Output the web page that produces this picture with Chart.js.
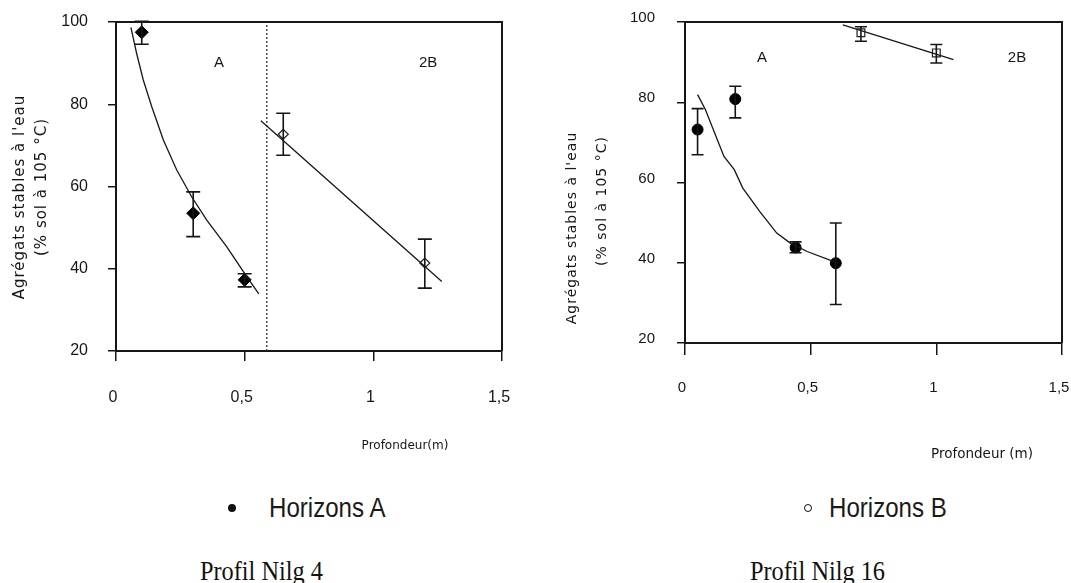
<!DOCTYPE html>
<html><head><meta charset="utf-8">
<script src="https://cdn.jsdelivr.net/npm/chart.js@4"></script>
<style>
html,body{margin:0;padding:0;background:#fff;width:1071px;height:583px;overflow:hidden;position:relative;font-family:"Liberation Sans",Arial,sans-serif}
.box{position:absolute;top:0;height:470px}
#w1{left:0;width:535px}
#w2{left:535px;width:560px}
.leg{position:absolute;font-size:28px;color:#1a1a1a;line-height:28px;height:28px;white-space:nowrap;transform:scaleX(0.86);transform-origin:0 50%}
.dot{position:absolute;width:8px;height:8px;border-radius:50%;box-sizing:border-box}
.cap{position:absolute;font-family:"Liberation Serif",serif;font-size:27px;line-height:28px;color:#111;white-space:nowrap;transform:scaleX(0.9);transform-origin:0 50%}
</style></head>
<body>
<div class="box" id="w1"><canvas id="c1"></canvas></div>
<div class="box" id="w2"><canvas id="c2"></canvas></div>
<div class="dot" style="left:228px;top:504px;background:#111"></div>
<div class="leg" style="left:269px;top:494px">Horizons A</div>
<div class="dot" style="left:804px;top:504px;border:1.5px solid #111;background:#fff"></div>
<div class="leg" style="left:829px;top:494px">Horizons B</div>
<div class="cap" style="left:200px;top:557px">Profil Nilg 4</div>
<div class="cap" style="left:750px;top:557px">Profil Nilg 16</div>
<script>
// ---- shared axis ticks ----
const xTickValues = [0, 0.5, 1, 1.5];
const xTickLabels = ['0', '0,5', '1', '1,5'];
const yTickValues = [20, 40, 60, 80, 100];
const yTickLabels = ['20', '40', '60', '80', '100'];
const yTitleLine1 = "Agrégats stables à l'eau";
const yTitleLine2 = "(% sol à 105 °C)";

// ---- Profil Nilg 4 ----
const p4A_depth = [0.1, 0.3, 0.5];
const p4A_value = [97.5, 53.5, 37.3];
const p4A_errLow = [94.6, 47.8, 35.6];
const p4A_errHigh = [100.2, 58.7, 38.8];
const p4B_depth = [0.65, 1.2];
const p4B_value = [72.7, 41.4];
const p4B_errLow = [67.6, 35.3];
const p4B_errHigh = [77.8, 47.2];
const p4A_fitDepth = [0.058, 0.080, 0.106, 0.139, 0.184, 0.236, 0.294, 0.352, 0.430, 0.508, 0.555];
const p4A_fitValue = [98.7, 92.4, 85.9, 79.4, 71.3, 64.0, 57.5, 51.9, 45.4, 38.1, 33.9];
const p4B_fitDepth = [0.563, 1.266];
const p4B_fitValue = [76.0, 36.9];
const p4_boundaryDepth = [0.586, 0.586];
const p4_boundaryValue = [20, 100];

// ---- Profil Nilg 16 ----
const p16A_depth = [0.05, 0.2, 0.44, 0.6];
const p16A_value = [73.2, 80.8, 43.8, 39.9];
const p16A_errLow = [66.9, 76.1, 42.5, 29.6];
const p16A_errHigh = [78.4, 84.0, 45.2, 49.9];
const p16B_depth = [0.7, 1.0];
const p16B_value = [97.3, 92.3];
const p16B_errLow = [95.2, 89.8];
const p16B_errHigh = [98.8, 94.4];
const p16A_fitDepth = [0.05, 0.081, 0.155, 0.196, 0.23, 0.297, 0.365, 0.419, 0.486, 0.608];
const p16A_fitValue = [81.9, 78.2, 66.5, 63.2, 58.6, 52.8, 47.4, 44.9, 42.8, 39.9];
const p16B_fitDepth = [0.628, 1.068];
const p16B_fitValue = [99.3, 90.6];

const pts = (xs, ys) => xs.map((x, i) => ({x: x, y: ys[i]}));
const INK = '#161616';

const errorBars = {
  id: 'errorBars',
  afterDatasetsDraw(chart) {
    const ctx = chart.ctx, xs = chart.scales.x, ys = chart.scales.y;
    chart.data.datasets.forEach(ds => {
      if (!ds.errLow) return;
      const cap = ds.capHalf || 6;
      ctx.save();
      ctx.strokeStyle = INK; ctx.lineWidth = 1.6;
      ds.data.forEach((p, i) => {
        const px = xs.getPixelForValue(p.x);
        const lo = ys.getPixelForValue(ds.errLow[i]);
        const hi = ys.getPixelForValue(ds.errHigh[i]);
        ctx.beginPath();
        ctx.moveTo(px, lo); ctx.lineTo(px, hi);
        ctx.moveTo(px - cap, lo); ctx.lineTo(px + cap, lo);
        ctx.moveTo(px - cap, hi); ctx.lineTo(px + cap, hi);
        ctx.stroke();
      });
      ctx.restore();
    });
  }
};

const frameAndText = {
  id: 'frameAndText',
  afterDraw(chart, args, opts) {
    const ctx = chart.ctx, a = chart.chartArea;
    ctx.save();
    ctx.strokeStyle = INK; ctx.lineWidth = 2;
    ctx.beginPath();
    ctx.moveTo(a.left, a.top); ctx.lineTo(a.right, a.top); ctx.lineTo(a.right, a.bottom);
    ctx.stroke();
    ctx.fillStyle = INK;
    ctx.textAlign = 'center'; ctx.textBaseline = 'middle';
    (opts.texts || []).forEach(t => {
      let x = t.px, y = t.py;
      if (t.dx !== undefined) { x = chart.scales.x.getPixelForValue(t.dx); y = chart.scales.y.getPixelForValue(t.dy); }
      ctx.save();
      ctx.font = t.font;
      ctx.letterSpacing = t.spacing || '0px';
      ctx.translate(x, y);
      if (t.rot) ctx.rotate(t.rot);
      ctx.fillText(t.text, 0, 0);
      ctx.restore();
    });
    ctx.restore();
  }
};

function build(id, o) {
  const datasets = [
    {data: pts(o.fitA[0], o.fitA[1]), showLine: true, borderColor: INK, borderWidth: 1.3, pointRadius: 0, tension: 0},
    {data: pts(o.fitB[0], o.fitB[1]), showLine: true, borderColor: INK, borderWidth: 1.3, pointRadius: 0, tension: 0},
    {data: pts(o.A[0], o.A[1]), errLow: o.A[2], errHigh: o.A[3], capHalf: o.cap, showLine: false,
     pointStyle: o.styleA, pointRadius: o.radA, backgroundColor: '#000', borderColor: '#000', borderWidth: 1},
    {data: pts(o.B[0], o.B[1]), errLow: o.B[2], errHigh: o.B[3], capHalf: o.cap, showLine: false,
     pointStyle: o.styleB, pointRadius: o.radB, backgroundColor: '#fff', borderColor: '#222', borderWidth: 1.2}
  ];
  if (o.boundary) datasets.push({data: pts(o.boundary[0], o.boundary[1]), showLine: true, borderColor: '#333', borderWidth: 1.3, borderDash: [2, 2], pointRadius: 0});
  return new Chart(document.getElementById(id), {
    type: 'scatter',
    data: {datasets},
    options: {
      responsive: true, maintainAspectRatio: false, animation: false,
      layout: {padding: o.pad},
      plugins: {legend: {display: false}, tooltip: {enabled: false}, frameAndText: {texts: o.texts}},
      scales: {
        x: {type: 'linear', min: 0, max: 1.5,
            afterBuildTicks: s => { s.ticks = xTickValues.map(v => ({value: v})); },
            ticks: {callback: (v, i) => xTickLabels[i], font: {family: 'Liberation Sans', size: o.tickSize}, color: INK, padding: o.xPad, maxRotation: 0, autoSkip: false, labelOffset: -3},
            grid: {drawOnChartArea: false, drawTicks: true, tickLength: o.xTickLen, color: INK, lineWidth: 1.5},
            border: {color: INK, width: 2},
            afterFit: s => { s.height = o.xH; s.paddingLeft = 0; s.paddingRight = 0; }},
        y: {type: 'linear', min: 20, max: 100,
            afterBuildTicks: s => { s.ticks = yTickValues.map(v => ({value: v})); },
            ticks: {callback: (v, i) => yTickLabels[i], font: {family: 'Liberation Sans', size: o.tickSize}, color: INK, padding: o.yPad, labelOffset: o.yLabOff},
            grid: {drawOnChartArea: false, drawTicks: true, tickLength: 8, color: INK, lineWidth: 1.5},
            border: {color: INK, width: 2},
            afterFit: s => { s.width = o.yW; s.paddingTop = 0; s.paddingBottom = 0; }}
      }
    },
    plugins: [errorBars, frameAndText]
  });
}

build('c1', {
  fitA: [p4A_fitDepth, p4A_fitValue], fitB: [p4B_fitDepth, p4B_fitValue],
  A: [p4A_depth, p4A_value, p4A_errLow, p4A_errHigh],
  B: [p4B_depth, p4B_value, p4B_errLow, p4B_errHigh],
  boundary: [p4_boundaryDepth, p4_boundaryValue],
  styleA: 'rectRot', radA: 6.5, styleB: 'rectRot', radB: 5, cap: 7,
  pad: {top: 22, right: 33, left: 0, bottom: 0},
  xH: 119, yW: 116, tickSize: 16, xPad: 27, xTickLen: 10, yPad: 20, yLabOff: 0,
  texts: [
    {text: 'A', dx: 0.4, dy: 90, font: '15px "Liberation Sans"'},
    {text: '2B', dx: 1.213, dy: 90, font: '15px "Liberation Sans"'},
    {text: yTitleLine1, px: 20, py: 197, rot: -Math.PI / 2, font: '15px "DejaVu Sans"', spacing: '1px'},
    {text: yTitleLine2, px: 42, py: 187, rot: -Math.PI / 2, font: '15px "DejaVu Sans"', spacing: '1px'},
    {text: 'Profondeur(m)', px: 405, py: 446, font: '12px "DejaVu Sans"'}
  ]
});

build('c2', {
  fitA: [p16A_fitDepth, p16A_fitValue], fitB: [p16B_fitDepth, p16B_fitValue],
  A: [p16A_depth, p16A_value, p16A_errLow, p16A_errHigh],
  B: [p16B_depth, p16B_value, p16B_errLow, p16B_errHigh],
  styleA: 'circle', radA: 5.5, styleB: 'rect', radB: 5.5, cap: 6,
  pad: {top: 22, right: 33, left: 0, bottom: 0},
  xH: 127, yW: 150, tickSize: 15, xPad: 24, xTickLen: 12, yPad: 22, yLabOff: -4,
  texts: [
    {text: 'A', dx: 0.306, dy: 91, font: '15px "Liberation Sans"'},
    {text: '2B', dx: 1.321, dy: 91, font: '15px "Liberation Sans"'},
    {text: yTitleLine1, px: 37, py: 228, rot: -Math.PI / 2, font: '14px "DejaVu Sans"', spacing: '1px'},
    {text: yTitleLine2, px: 67, py: 201, rot: -Math.PI / 2, font: '14px "DejaVu Sans"', spacing: '1px'},
    {text: 'Profondeur (m)', px: 447, py: 454, font: '13.5px "DejaVu Sans"'}
  ]
});
</script>
</body></html>
